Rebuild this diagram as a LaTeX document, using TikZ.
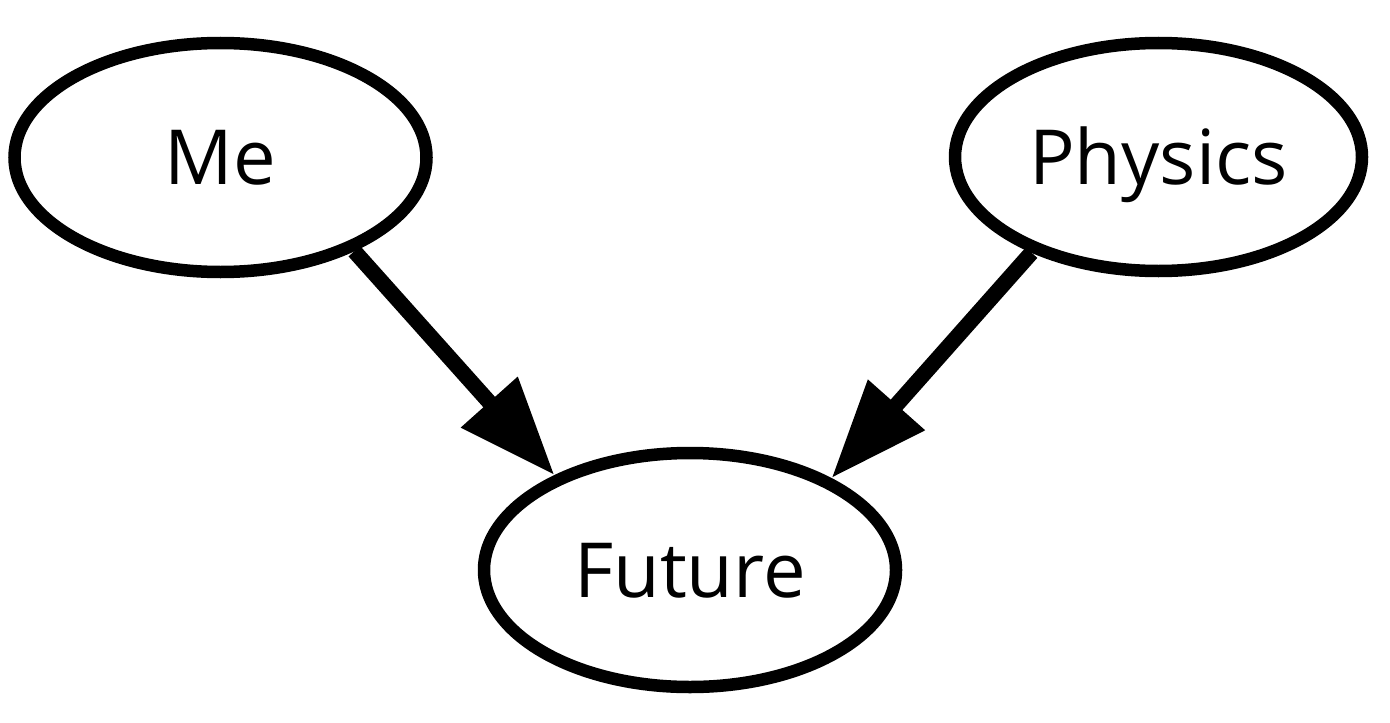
\documentclass[tikz,border=0pt]{standalone}
\usepackage{fontspec}
\setmainfont{Open Sans}
\usetikzlibrary{arrows.meta,shapes.geometric}
\begin{document}
\begin{tikzpicture}[x=0.5pt,y=-0.5pt,
  state/.style={ellipse,draw,line width=6.25pt,inner sep=0pt,
    font=\fontsize{38}{40}\selectfont,text height=27.2pt,text depth=0pt},
  edge/.style={line width=7.8pt,-{Triangle[length=49pt,width=36pt]}}]
\useasboundingbox (0,0) rectangle (1390,722);
\node[state,minimum width=206pt,minimum height=114.5pt] (Me) at (220.5,157.5) {Me};
\node[state,minimum width=203.5pt,minimum height=114pt] (Phys) at (1158.5,157) {Physics};
\node[state,minimum width=206pt,minimum height=117pt] (Future) at (690,570) {Future};
\draw[edge] (Me.-35.1) -- (Future.145.8);
\draw[edge] (Phys.-143.7) -- (Future.33.6);
\end{tikzpicture}
\end{document}
